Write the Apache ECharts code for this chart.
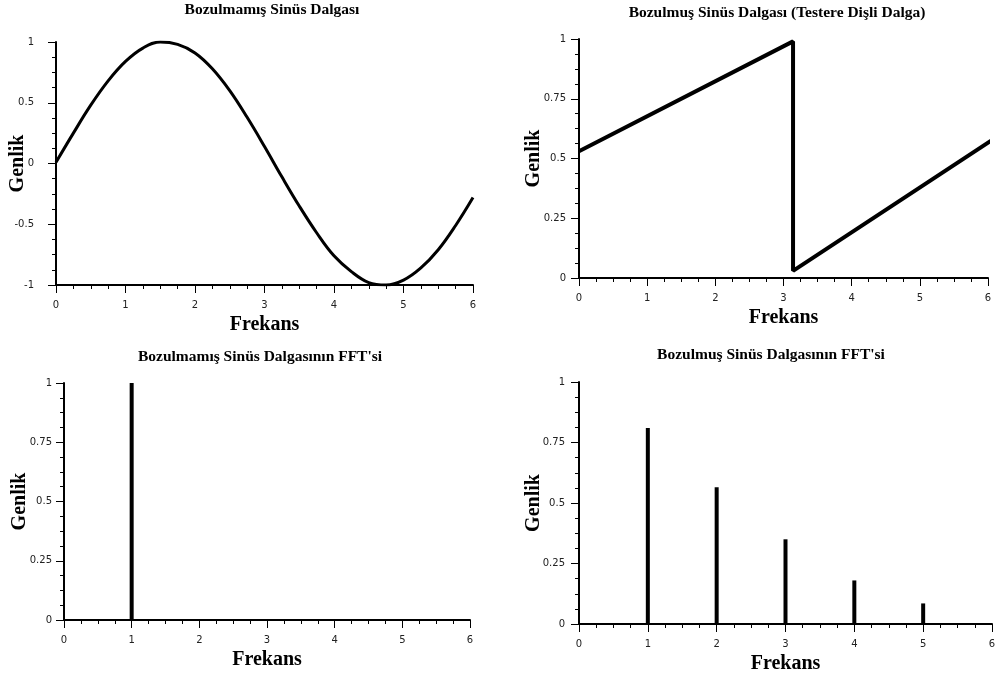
<!DOCTYPE html>
<html>
<head>
<meta charset="utf-8">
<script src="https://cdn.jsdelivr.net/npm/echarts@6/dist/echarts.min.js"></script>
<style>
  html, body { margin: 0; padding: 0; background: #fff; }
  #chart { width: 1003px; height: 675px; }
</style>
</head>
<body>
<div id="chart"></div>
<script>
// Bozulmamış sinüs (okunan değerler, 0.25 adım)
let sineX = [0, 0.25, 0.5, 0.75, 1, 1.25, 1.5, 1.75, 2, 2.25, 2.5, 2.75, 3, 3.25, 3.5, 3.75, 4, 4.25, 4.5, 4.75, 5, 5.25, 5.5, 5.75, 6]
let sineY = [0.01, 0.25, 0.48, 0.68, 0.84, 0.95, 1.0, 0.98, 0.91, 0.78, 0.6, 0.38, 0.14, -0.11, -0.35, -0.57, -0.76, -0.89, -0.98, -1.0, -0.96, -0.86, -0.71, -0.51, -0.28]
// testere dişli dalga
let sawX = [0, 3.14, 3.14, 6.22]
let sawY = [0.53, 0.99, 0.03, 0.607]
// FFT genlikleri
let fftCleanX = [1]
let fftCleanY = [1.0]
let fftSawX = [1, 2, 3, 4, 5]
let fftSawY = [0.81, 0.565, 0.35, 0.18, 0.085]

let titles = ['Bozulmamış Sinüs Dalgası', 'Bozulmuş Sinüs Dalgası (Testere Dişli Dalga)', "Bozulmamış Sinüs Dalgasının FFT'si", "Bozulmuş Sinüs Dalgasının FFT'si"]
let xTitle = 'Frekans'
let yTitle = 'Genlik'

let serif = '"Liberation Serif", "DejaVu Serif", serif'
let sans = '"DejaVu Sans", sans-serif'

let grids = [
  { left: 56, top: 42, width: 417, height: 243, outerBoundsMode: 'none' },
  { left: 579, top: 39, width: 409, height: 239, outerBoundsMode: 'none' },
  { left: 64, top: 383, width: 406, height: 237, outerBoundsMode: 'none' },
  { left: 579, top: 382, width: 413, height: 242, outerBoundsMode: 'none' }
]
let titlePos = [[272, 2], [777, 5], [260, 349], [771, 347]]
let yGaps = [28, 35, 34, 35]
let yRanges = [[-1, 1, 0.5], [0, 1, 0.25], [0, 1, 0.25], [0, 1, 0.25]]
let yMargins = [22, 13, 12, 14]

function axisCommon () {
  return {
    axisLine: { show: true, onZero: false, lineStyle: { color: '#000', width: 2 } },
    axisTick: { show: true, inside: false, length: 8, lineStyle: { color: '#000', width: 1 } },
    minorTick: { show: true, splitNumber: 4, length: 4, lineStyle: { color: '#000', width: 1 } },
    splitLine: { show: false },
    minorSplitLine: { show: false },
    nameMoveOverlap: false,
    nameTextStyle: { fontFamily: serif, fontWeight: 'bold', fontSize: 20, color: '#000' }
  }
}

let xAxes = grids.map(function (g, i) {
  return Object.assign(axisCommon(), {
    type: 'value',
    gridIndex: i,
    min: 0,
    max: 6,
    interval: 1,
    name: xTitle,
    nameLocation: 'middle',
    nameGap: 30,
    axisLabel: { margin: 15, fontFamily: sans, fontSize: 10, color: '#222' }
  })
})

let yAxes = grids.map(function (g, i) {
  return Object.assign(axisCommon(), {
    type: 'value',
    gridIndex: i,
    min: yRanges[i][0],
    max: yRanges[i][1],
    interval: yRanges[i][2],
    name: yTitle,
    nameLocation: 'middle',
    nameRotate: 90,
    nameGap: yGaps[i],
    axisLabel: { margin: yMargins[i], fontFamily: sans, fontSize: 10, color: '#222' }
  })
})

function pairs (xs, ys) {
  return xs.map(function (x, i) { return [x, ys[i]] })
}

let myCharts = echarts.init(document.getElementById('chart'), null, { renderer: 'canvas' })
myCharts.setOption({
  animation: false,
  backgroundColor: '#fff',
  graphic: titles.map(function (t, i) {
    return {
      type: 'text',
      x: titlePos[i][0],
      y: titlePos[i][1],
      style: { text: t, textAlign: 'center', fontFamily: serif, fontWeight: 'bold', fontSize: 15.5, fill: '#000' }
    }
  }),
  grid: grids,
  xAxis: xAxes,
  yAxis: yAxes,
  series: [
    {
      type: 'line',
      xAxisIndex: 0,
      yAxisIndex: 0,
      data: pairs(sineX, sineY),
      smooth: 0.4,
      showSymbol: false,
      lineStyle: { color: '#000', width: 3 }
    },
    {
      type: 'line',
      xAxisIndex: 1,
      yAxisIndex: 1,
      data: pairs(sawX, sawY),
      clip: false,
      showSymbol: false,
      lineStyle: { color: '#000', width: 4 }
    },
    {
      type: 'bar',
      xAxisIndex: 2,
      yAxisIndex: 2,
      data: pairs(fftCleanX, fftCleanY),
      barWidth: 4,
      itemStyle: { color: '#000' }
    },
    {
      type: 'bar',
      xAxisIndex: 3,
      yAxisIndex: 3,
      data: pairs(fftSawX, fftSawY),
      barWidth: 4,
      itemStyle: { color: '#000' }
    }
  ]
})
window.addEventListener('resize', function () {
  myCharts.resize()
})
</script>
</body>
</html>
